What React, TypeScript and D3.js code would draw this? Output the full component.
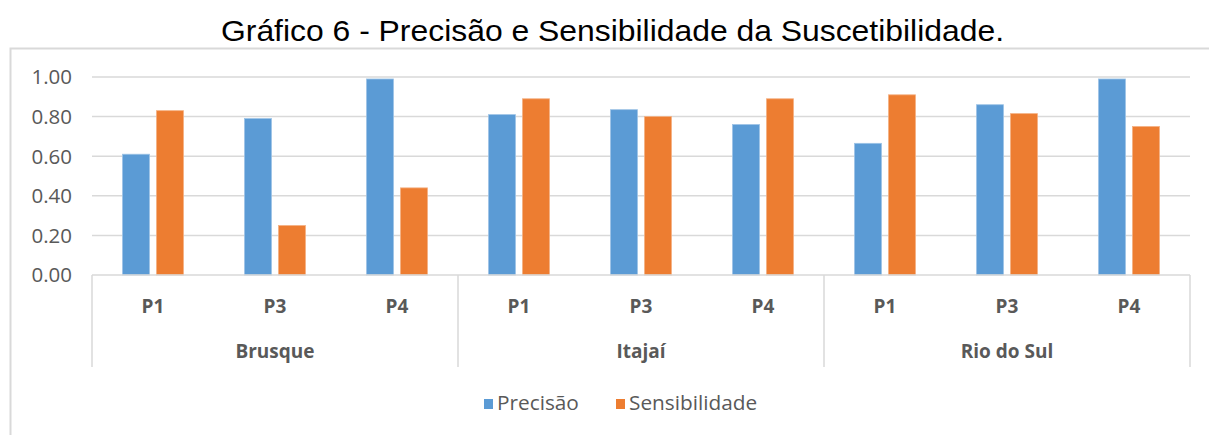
import React from 'react';
import * as d3 from 'd3';

const groups = ['Brusque', 'Itajaí', 'Rio do Sul'];
const points = ['P1', 'P3', 'P4'];
const seriesNames = ['Precisão', 'Sensibilidade'];
const precisao = [0.61, 0.79, 0.99, 0.81, 0.835, 0.76, 0.665, 0.86, 0.99];
const sensibilidade = [0.83, 0.25, 0.44, 0.89, 0.80, 0.89, 0.91, 0.815, 0.75];
const yTicks = [0, 0.2, 0.4, 0.6, 0.8, 1.0];
const colors = ['#5B9BD5', '#ED7D31'];
const strokes = ['#9DC3E6', '#F4B183'];

const W = 1209;
const H = 435;
const plot = { left: 92, right: 1190, top: 77, bottom: 275 };

const App = () => {
    const cats = groups.flatMap((g) => points.map((p) => `${g}|${p}`));

    // scales
    const x0 = d3.scaleBand<string>().domain(cats).range([plot.left, plot.right]).padding(0);
    const xg = d3.scaleBand<string>().domain(groups).range([plot.left, plot.right]).padding(0);
    const x1 = d3
        .scaleBand<string>()
        .domain(seriesNames)
        .range([0, x0.bandwidth()])
        .paddingInner(0.206)
        .paddingOuter(0.897);
    const y = d3.scaleLinear().domain([0, 1]).range([plot.bottom, plot.top]);

    const values = [precisao, sensibilidade];
    const grey = '#595959';
    const sepBottom = 367;

    return (
        <svg width={W} height={H} style={{ position: 'absolute', left: 0, top: 0, background: '#fff' }}>
            <text
                x={221}
                y={41}
                textLength={783}
                lengthAdjust="spacingAndGlyphs"
                fontFamily="'Liberation Sans', Arial, sans-serif"
                fontSize={30}
                fill="#000"
            >
                Gráfico 6 - Precisão e Sensibilidade da Suscetibilidade.
            </text>

            {/* chart frame (cut off on the right and bottom) */}
            <path d={`M10.5,${H + 5} V48.5 H${W + 5}`} fill="none" stroke="#d9d9d9" strokeWidth={2} />

            {/* gridlines + y labels */}
            {yTicks.map((t) => (
                <g key={t}>
                    {t > 0 && (
                        <line x1={plot.left} x2={plot.right} y1={y(t)} y2={y(t)} stroke="#d9d9d9" strokeWidth={1.5} />
                    )}
                    <text
                        x={72}
                        y={y(t)}
                        dy="0.36em"
                        textAnchor="end"
                        fontFamily="'Open Sans', sans-serif"
                        fontSize={20.5}
                        fill={grey}
                    >
                        {d3.format('.2f')(t)}
                    </text>
                </g>
            ))}

            {/* bars */}
            {cats.map((c, i) => (
                <g key={c} transform={`translate(${x0(c)},0)`}>
                    {seriesNames.map((s, j) => (
                        <rect
                            key={s}
                            x={x1(s)}
                            y={y(values[j][i])}
                            width={x1.bandwidth()}
                            height={y(0) - y(values[j][i])}
                            fill={colors[j]}
                            stroke={strokes[j]}
                            strokeWidth={0.8}
                        />
                    ))}
                </g>
            ))}

            {/* category axis */}
            <line x1={plot.left} x2={plot.right} y1={plot.bottom} y2={plot.bottom} stroke="#d9d9d9" strokeWidth={1.5} />
            {[...groups.map((g) => xg(g)!), plot.right].map((sx, i) => (
                <line key={i} x1={sx} x2={sx} y1={plot.bottom} y2={sepBottom} stroke="#d9d9d9" strokeWidth={1.5} />
            ))}
            {cats.map((c) => (
                <text
                    key={c}
                    x={x0(c)! + x0.bandwidth() / 2}
                    y={312.5}
                    textAnchor="middle"
                    fontFamily="'Open Sans', sans-serif"
                    fontWeight="bold"
                    fontSize={19}
                    fill={grey}
                >
                    {c.split('|')[1]}
                </text>
            ))}
            {groups.map((g) => (
                <text
                    key={g}
                    x={xg(g)! + xg.bandwidth() / 2}
                    y={358}
                    textAnchor="middle"
                    fontFamily="'Open Sans', sans-serif"
                    fontWeight="bold"
                    fontSize={19}
                    fill={grey}
                >
                    {g}
                </text>
            ))}

            {/* legend */}
            {seriesNames.map((s, j) => {
                const lx = [484, 616][j];
                return (
                    <g key={s}>
                        <rect x={lx} y={399} width={9} height={10} fill={colors[j]} />
                        <text x={lx + 13} y={409.5} fontFamily="'Open Sans', sans-serif" fontSize={20.8} fill={grey}>
                            {s}
                        </text>
                    </g>
                );
            })}
        </svg>
    );
};

export default App;
